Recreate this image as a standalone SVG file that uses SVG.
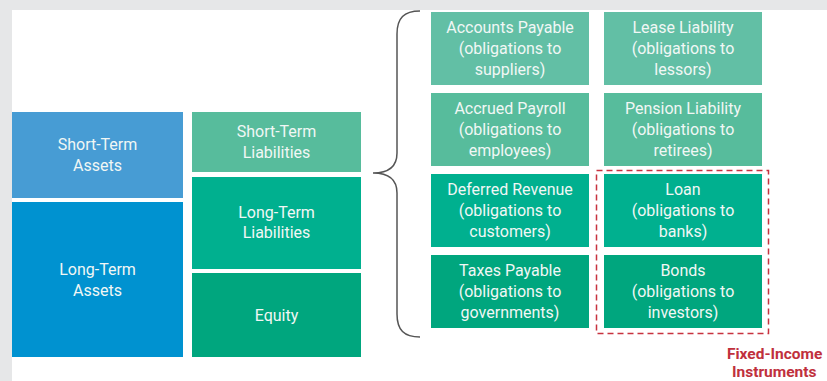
<svg xmlns="http://www.w3.org/2000/svg" width="827" height="381" viewBox="0 0 827 381">
<style>
.t{font-family:Roboto,"Liberation Sans",sans-serif;font-size:16px;fill:#f1f7f5;text-anchor:middle}
.r{font-family:Roboto,"Liberation Sans",sans-serif;font-size:15.5px;font-weight:bold;fill:#c0303d}
</style>
<rect x="0" y="0" width="827" height="381" fill="#e6e7e8"/>
<rect x="12" y="10" width="815" height="371" fill="#ffffff"/>
<g id="short-term-assets"><rect x="12" y="112" width="171" height="86" fill="#479cd4"/><text class="t" x="97.5" y="150">Short-Term</text><text class="t" x="97.5" y="171">Assets</text></g>
<g id="long-term-assets"><rect x="12" y="202" width="171" height="155" fill="#0092d0"/><text class="t" x="97.5" y="275">Long-Term</text><text class="t" x="97.5" y="296">Assets</text></g>
<g id="short-term-liabilities"><rect x="192" y="112" width="169" height="60" fill="#57bc9c"/><text class="t" x="276.5" y="137">Short-Term</text><text class="t" x="276.5" y="158">Liabilities</text></g>
<g id="long-term-liabilities"><rect x="192" y="177" width="169" height="92" fill="#00b08f"/><text class="t" x="276.5" y="218">Long-Term</text><text class="t" x="276.5" y="238">Liabilities</text></g>
<g id="equity"><rect x="192" y="273" width="169" height="84" fill="#00a67e"/><text class="t" x="276.5" y="321">Equity</text></g>
<g id="connectors"><path d="M420,11 C404,11 397,18 397,34 L397,153 C397,166 390,173 373,173 C390,173 397,180 397,193 L397,314 C397,330 404,337 420,337" fill="none" stroke="#555" stroke-width="1.5"/></g>
<g id="accounts-payable"><rect x="431" y="12" width="158" height="73" fill="#62bfa5"/><text class="t" x="510" y="33">Accounts Payable</text><text class="t" x="510" y="54">(obligations to</text><text class="t" x="510" y="75">suppliers)</text></g>
<g id="lease-liability"><rect x="604" y="12" width="158" height="73" fill="#62bfa5"/><text class="t" x="683" y="33">Lease Liability</text><text class="t" x="683" y="54">(obligations to</text><text class="t" x="683" y="75">lessors)</text></g>
<g id="accrued-payroll"><rect x="431" y="93" width="158" height="73" fill="#57bc9c"/><text class="t" x="510" y="114">Accrued Payroll</text><text class="t" x="510" y="135">(obligations to</text><text class="t" x="510" y="156">employees)</text></g>
<g id="pension-liability"><rect x="604" y="93" width="158" height="73" fill="#57bc9c"/><text class="t" x="683" y="114">Pension Liability</text><text class="t" x="683" y="135">(obligations to</text><text class="t" x="683" y="156">retirees)</text></g>
<g id="deferred-revenue"><rect x="431" y="174" width="158" height="73" fill="#00b08f"/><text class="t" x="510" y="195">Deferred Revenue</text><text class="t" x="510" y="216">(obligations to</text><text class="t" x="510" y="237">customers)</text></g>
<g id="loan"><rect x="604" y="174" width="158" height="73" fill="#00b08f"/><text class="t" x="683" y="195">Loan</text><text class="t" x="683" y="216">(obligations to</text><text class="t" x="683" y="237">banks)</text></g>
<g id="taxes-payable"><rect x="431" y="255" width="158" height="73" fill="#00a67e"/><text class="t" x="510" y="276">Taxes Payable</text><text class="t" x="510" y="297">(obligations to</text><text class="t" x="510" y="318">governments)</text></g>
<g id="bonds"><rect x="604" y="255" width="158" height="73" fill="#00a67e"/><text class="t" x="683" y="276">Bonds</text><text class="t" x="683" y="297">(obligations to</text><text class="t" x="683" y="318">investors)</text></g>
<g id="fixed-income"><rect x="596.5" y="170.5" width="172" height="163" fill="none" stroke="#c8323f" stroke-width="1.5" stroke-dasharray="6,4"/><text class="r" x="727" y="359">Fixed-Income</text><text class="r" x="732" y="377">Instruments</text></g>
</svg>
